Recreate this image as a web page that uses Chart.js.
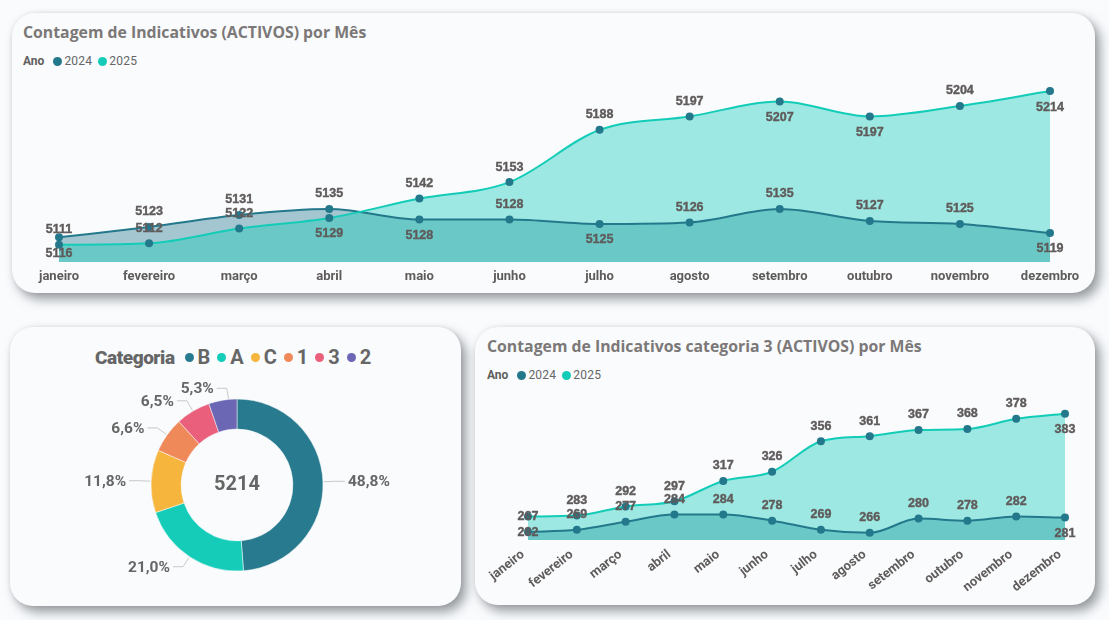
<!DOCTYPE html>
<html>
<head>
<meta charset="utf-8">
<script src="https://cdn.jsdelivr.net/npm/chart.js@4"></script>
<style>
    html, body { margin: 0; padding: 0; background: #f9fbfd; width: 1109px; height: 620px; overflow: hidden; }
    .card { position: absolute; background: #f9fbfd; border-radius: 23px; box-shadow: 5px 6px 11px rgba(70, 75, 80, .55), 0 0 4px rgba(0, 0, 0, .08); }
    canvas { position: absolute; }
    .title { position: absolute; font: bold 15.8px "Open Sans", sans-serif; color: #7b7877; white-space: nowrap; }
    .legend { position: absolute; display: flex; align-items: center; font: 12px Roboto, sans-serif; color: #666; white-space: nowrap; }
    .legend b { margin-right: 9px; color: #605e5c; }
    .legend i { width: 9px; height: 9px; border-radius: 50%; margin-right: 2px; }
    .legend span { margin-right: 6px; letter-spacing: .25px; }
    #catLegend { font: bold 20px Roboto, sans-serif; color: #666; }
    #catLegend b { margin-right: 10px; color: #666; font-size: 19px; letter-spacing: -.45px; }
    #catLegend span { margin-right: 7px; letter-spacing: 0; }
    #catLegend i { margin-right: 4px; }
</style>
</head>
<body>
<div class="card" style="left:12px;top:13px;width:1083px;height:280px"></div>
<div class="card" style="left:10px;top:327px;width:451px;height:279px"></div>
<div class="card" style="left:475px;top:327px;width:620px;height:278px"></div>

<div class="title" style="left:23px;top:21px">Contagem de Indicativos (ACTIVOS) por Mês</div>
<div class="legend" id="legendTotal" style="left:23px;top:54px"></div>
<div class="title" style="left:487px;top:335px">Contagem de Indicativos categoria 3 (ACTIVOS) por Mês</div>
<div class="legend" id="legendCat3" style="left:487px;top:368px"></div>
<div class="legend" id="catLegend" style="left:95px;top:345px"></div>

<canvas id="totalChart" width="1083" height="220" style="left:12px;top:70px"></canvas>
<canvas id="donutChart" width="450" height="230" style="left:12px;top:370px"></canvas>
<canvas id="cat3Chart" width="620" height="218" style="left:475px;top:385px"></canvas>

<script>
const months = ["janeiro", "fevereiro", "março", "abril", "maio", "junho", "julho", "agosto", "setembro", "outubro", "novembro", "dezembro"];
const years = ["2024", "2025"];

const total2024 = [5116, 5123, 5131, 5135, 5128, 5128, 5125, 5126, 5135, 5127, 5125, 5119];
const total2025 = [5111, 5112, 5122, 5129, 5142, 5153, 5188, 5197, 5207, 5197, 5204, 5214];

const cat3_2024 = [267, 269, 277, 284, 284, 278, 269, 266, 280, 278, 282, 281];
const cat3_2025 = [282, 283, 292, 297, 317, 326, 356, 361, 367, 368, 378, 383];

const categories = ["B", "A", "C", "1", "3", "2"];
const shares = [48.8, 21.0, 11.8, 6.6, 6.5, 5.3];
const donutTotal = "5214";

// which months get their label under the point
const total2024Below = ["janeiro", "maio", "julho", "dezembro"];
const total2025Below = ["abril", "setembro", "outubro", "dezembro"];
const cat3_2024Below = ["dezembro"];
const cat3_2025Below = ["janeiro", "dezembro"];

const TEAL = "#24788c";
const GREEN = "#13ccb8";
const sliceColors = [ "#287b8f", "#15ccb9", "#f6b53d", "#f0895a", "#ea5f7b", "#6b67b5" ];
const TEXT = "#5f5b5b";

function buildLegend(id, label, names, colors) {
    const box = document.getElementById(id);
    box.innerHTML = `<b>${label}</b>` + names.map((n, i) =>
        `<i style="background:${colors[i]}"></i><span>${n}</span>`).join("");
}
buildLegend("legendTotal", "Ano", years, [TEAL, GREEN]);
buildLegend("legendCat3", "Ano", years, [TEAL, GREEN]);
buildLegend("catLegend", "Categoria", categories, sliceColors);

// value labels above or below each point
const pointLabels = {
    id: "pointLabels",
    afterDatasetsDraw(chart) {
        const ctx = chart.ctx;
        ctx.save();
        ctx.font = 'bold 12.5px "Liberation Sans", Arial, sans-serif';
        ctx.fillStyle = TEXT;
        ctx.strokeStyle = TEXT;
        ctx.lineWidth = 0.4;
        ctx.textAlign = "center";
        ctx.textBaseline = "middle";
        chart.data.datasets.forEach((ds, d) => {
            chart.getDatasetMeta(d).data.forEach((pt, i) => {
                const below = ds.below.includes(months[i]);
                const y = pt.y + (below ? 16 : -15);
                ctx.fillText(ds.data[i], pt.x, y);
                ctx.strokeText(ds.data[i], pt.x, y);
            });
        });
        ctx.restore();
    }
};

function lineChart(id, values2024, values2025, below2024, below2025, opts) {
    const series = (label, data, color, fill, below) => ({
        label, data, below,
        borderColor: color,
        backgroundColor: fill,
        borderWidth: 2,
        fill: "origin",
        cubicInterpolationMode: "monotone",
        pointRadius: 4,
        pointBackgroundColor: TEAL,
        pointBorderWidth: 0
    });
    return new Chart(document.getElementById(id), {
        type: "line",
        data: {
            labels: months,
            datasets: [
                series("2025", values2025, GREEN, "rgba(19, 204, 184, 0.4)", below2025),
                series("2024", values2024, TEAL, "rgba(36, 120, 140, 0.4)", below2024)
            ]
        },
        options: {
            responsive: false,
            animation: false,
            layout: { padding: opts.padding },
            plugins: {
                legend: { display: false },
                tooltip: { enabled: false },
                filler: { drawTime: "beforeDatasetsDraw" }
            },
            scales: {
                x: {
                    grid: { display: false },
                    border: { display: false },
                    afterFit(s) { s.height = opts.axisHeight; s.paddingLeft = 0; s.paddingRight = 0; },
                    ticks: {
                        autoSkip: false,
                        minRotation: opts.rotation,
                        maxRotation: opts.rotation,
                        padding: opts.tickPadding,
                        labelOffset: opts.labelOffset,
                        color: TEXT,
                        font: { family: "Roboto", weight: "bold", size: 13 }
                    }
                },
                y: { display: false, min: opts.min, max: opts.max }
            }
        },
        plugins: [pointLabels]
    });
}

lineChart("totalChart", total2024, total2025, total2024Below, total2025Below, {
    padding: { left: 47, right: 45, top: 10, bottom: 2 },
    axisHeight: 26, rotation: 0, tickPadding: -1, labelOffset: 0, min: 5099.5, max: 5221.4
});
lineChart("cat3Chart", cat3_2024, cat3_2025, cat3_2024Below, cat3_2025Below, {
    padding: { left: 53, right: 30, top: 10, bottom: 3 },
    axisHeight: 60, rotation: 38, tickPadding: -1, labelOffset: -5, min: 259, max: 401.4
});

// the top slice's leader sits a little right of its mid angle
const leaderShift = [0, 0, 0, 0, 0, 6];

// center number plus percent labels on leader lines
const donutLabels = {
    id: "donutLabels",
    afterDatasetsDraw(chart) {
        const ctx = chart.ctx;
        const arcs = chart.getDatasetMeta(0).data;
        const cx = arcs[0].x, cy = arcs[0].y;
        ctx.save();
        ctx.fillStyle = "#666";
        ctx.font = "bold 20px Roboto, sans-serif";
        ctx.textAlign = "center";
        ctx.textBaseline = "middle";
        ctx.fillText(donutTotal, cx, cy);
        ctx.font = "bold 15.5px Roboto, sans-serif";
        arcs.forEach((arc, i) => {
            const angle = (arc.startAngle + arc.endAngle) / 2;
            const r = arc.outerRadius;
            const x0 = cx + Math.cos(angle) * (r + 1) + leaderShift[i], y0 = cy + Math.sin(angle) * (r + 1);
            const x1 = cx + Math.cos(angle) * (r + 12) + leaderShift[i], y1 = cy + Math.sin(angle) * (r + 12);
            const dir = x1 >= cx ? 1 : -1;
            const x2 = x1 + dir * 10;
            ctx.strokeStyle = "#c8c8c8";
            ctx.lineWidth = 1;
            ctx.beginPath();
            ctx.moveTo(x0, y0);
            ctx.lineTo(x1, y1);
            ctx.lineTo(x2, y1);
            ctx.stroke();
            ctx.textAlign = dir > 0 ? "left" : "right";
            ctx.fillText(shares[i].toFixed(1).replace(".", ",") + "%", x2 + dir * 3, y1 + 1);
        });
        ctx.restore();
    }
};

new Chart(document.getElementById("donutChart"), {
    type: "doughnut",
    data: {
        labels: categories,
        datasets: [{
            data: shares,
            backgroundColor: sliceColors,
            borderColor: "#f9fbfd",
            borderWidth: 0.5
        }]
    },
    options: {
        responsive: false,
        animation: false,
        radius: 86,
        cutout: "65%",
        plugins: { legend: { display: false }, tooltip: { enabled: false } }
    },
    plugins: [donutLabels]
});
</script>
</body>
</html>
